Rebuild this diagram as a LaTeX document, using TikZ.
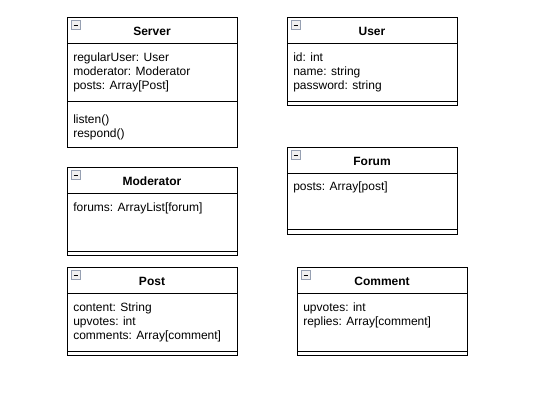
\documentclass[tikz,border=0pt]{standalone}
\usepackage{fontspec}
\setmainfont{Liberation Sans}
\usetikzlibrary{positioning}
\definecolor{btnedge}{RGB}{150,160,178}

\begin{document}
\begin{tikzpicture}[x=0.75pt, y=-0.75pt,
    frame/.style={draw=black, line width=0.75pt},
    title/.style={anchor=base, inner sep=0pt, font=\fontsize{9pt}{10.5pt}\selectfont\bfseries},
    field/.style={anchor=base west, inner sep=0pt, font=\fontsize{9pt}{10.5pt}\selectfont},
    minus/.style={draw=btnedge, fill=gray!12, line width=0.6pt, minimum size=6.5pt, inner sep=0pt}]

    % page size
    \useasboundingbox[fill=white] (0,0) rectangle (535,415);

    % Server class
    \draw[frame] (67,17) rectangle (237,147);
    \draw[frame] (67,43) -- (237,43);
    \draw[frame] (67,101) -- (237,101);
    \node[minus] (serverbtn) at (76,25) {\rule{3.5pt}{0.75pt}};
    \node[title] (server) at (152,35) {Server};
    \node[field] (server1) at (73,61) {regularUser: User};
    \node[field] (server2) at (73,75) {moderator: Moderator};
    \node[field] (server3) at (73,89) {posts: Array[Post]};
    \node[field] (server4) at (73,123) {listen()};
    \node[field] (server5) at (73,137) {respond()};

    % User class
    \draw[frame] (287,17) rectangle (457,105);
    \draw[frame] (287,43) -- (457,43);
    \draw[frame] (287,101) -- (457,101);
    \node[minus] (userbtn) at (296,25) {\rule{3.5pt}{0.75pt}};
    \node[title] (user) at (372,35) {User};
    \node[field] (user1) at (293,61) {id: int};
    \node[field] (user2) at (293,75) {name: string};
    \node[field] (user3) at (293,89) {password: string};

    % Moderator class
    \draw[frame] (67,167) rectangle (237,255);
    \draw[frame] (67,193) -- (237,193);
    \draw[frame] (67,251) -- (237,251);
    \node[minus] (modbtn) at (76,175) {\rule{3.5pt}{0.75pt}};
    \node[title] (moderator) at (152,185) {Moderator};
    \node[field] (mod1) at (73,211) {forums: ArrayList[forum]};

    % Forum class
    \draw[frame] (287,147) rectangle (457,234);
    \draw[frame] (287,173) -- (457,173);
    \draw[frame] (287,229) -- (457,229);
    \node[minus] (forumbtn) at (296,155) {\rule{3.5pt}{0.75pt}};
    \node[title] (forum) at (372,165) {Forum};
    \node[field] (forum1) at (293,190) {posts: Array[post]};

    % Post class
    \draw[frame] (67,267) rectangle (237,355);
    \draw[frame] (67,293) -- (237,293);
    \draw[frame] (67,351) -- (237,351);
    \node[minus] (postbtn) at (76,275) {\rule{3.5pt}{0.75pt}};
    \node[title] (post) at (152,285) {Post};
    \node[field] (post1) at (73,311) {content: String};
    \node[field] (post2) at (73,325) {upvotes: int};
    \node[field] (post3) at (73,339) {comments: Array[comment]};

    % Comment class
    \draw[frame] (297,267) rectangle (467,355);
    \draw[frame] (297,293) -- (467,293);
    \draw[frame] (297,351) -- (467,351);
    \node[minus] (commentbtn) at (306,275) {\rule{3.5pt}{0.75pt}};
    \node[title] (comment) at (382,285) {Comment};
    \node[field] (comment1) at (303,311) {upvotes: int};
    \node[field] (comment2) at (303,325) {replies: Array[comment]};

\end{tikzpicture}
\end{document}
